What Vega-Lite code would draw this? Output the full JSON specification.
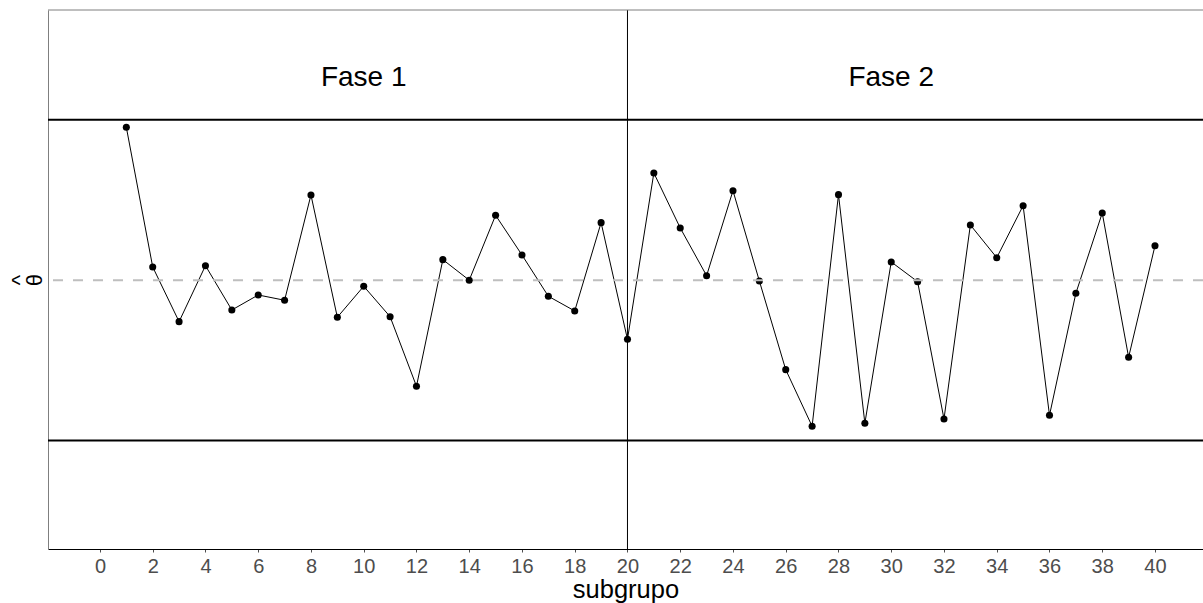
{
  "$schema": "https://vega.github.io/schema/vega-lite/v6.json",
  "autosize": "none",
  "width": 1155,
  "height": 539,
  "padding": {"left": 48, "top": 10, "right": 0, "bottom": 54},
  "background": "white",
  "config": {
    "font": "Liberation Sans",
    "view": {"stroke": null},
    "axis": {"grid": false}
  },
  "datasets": {
    "obs": [
      {"subgrupo": 1, "theta": 2.86},
      {"subgrupo": 2, "theta": 0.247},
      {"subgrupo": 3, "theta": -0.776},
      {"subgrupo": 4, "theta": 0.271},
      {"subgrupo": 5, "theta": -0.558},
      {"subgrupo": 6, "theta": -0.277},
      {"subgrupo": 7, "theta": -0.376},
      {"subgrupo": 8, "theta": 1.594},
      {"subgrupo": 9, "theta": -0.694},
      {"subgrupo": 10, "theta": -0.114},
      {"subgrupo": 11, "theta": -0.683},
      {"subgrupo": 12, "theta": -1.985},
      {"subgrupo": 13, "theta": 0.384},
      {"subgrupo": 14, "theta": 0.0},
      {"subgrupo": 15, "theta": 1.214},
      {"subgrupo": 16, "theta": 0.471},
      {"subgrupo": 17, "theta": -0.301},
      {"subgrupo": 18, "theta": -0.576},
      {"subgrupo": 19, "theta": 1.076},
      {"subgrupo": 20, "theta": -1.106},
      {"subgrupo": 21, "theta": 2.006},
      {"subgrupo": 22, "theta": 0.977},
      {"subgrupo": 23, "theta": 0.084},
      {"subgrupo": 24, "theta": 1.674},
      {"subgrupo": 25, "theta": -0.015},
      {"subgrupo": 26, "theta": -1.674},
      {"subgrupo": 27, "theta": -2.733},
      {"subgrupo": 28, "theta": 1.6},
      {"subgrupo": 29, "theta": -2.677},
      {"subgrupo": 30, "theta": 0.341},
      {"subgrupo": 31, "theta": -0.028},
      {"subgrupo": 32, "theta": -2.597},
      {"subgrupo": 33, "theta": 1.033},
      {"subgrupo": 34, "theta": 0.421},
      {"subgrupo": 35, "theta": 1.394},
      {"subgrupo": 36, "theta": -2.528},
      {"subgrupo": 37, "theta": -0.245},
      {"subgrupo": 38, "theta": 1.257},
      {"subgrupo": 39, "theta": -1.442},
      {"subgrupo": 40, "theta": 0.645}
    ],
    "limites": [
      {"limite": "LSC", "valor": 3},
      {"limite": "LIC", "valor": -3}
    ],
    "centro": [{"limite": "LC", "valor": 0}],
    "corte": [{"subgrupo": 20}],
    "fases": [
      {"subgrupo": 10, "theta": 3.64, "fase": "Fase 1"},
      {"subgrupo": 30, "theta": 3.64, "fase": "Fase 2"}
    ],
    "borde": [{"valor": 5.055}]
  },
  "layer": [
    {
      "data": {"name": "obs"},
      "mark": {"type": "line", "color": "black", "strokeWidth": 1},
      "encoding": {
        "x": {
          "field": "subgrupo", "type": "quantitative",
          "scale": {"domain": [-1.97, 41.82], "nice": false, "zero": false},
          "axis": {
            "values": [0,2,4,6,8,10,12,14,16,18,20,22,24,26,28,30,32,34,36,38,40],
            "title": "subgrupo",
            "domainColor": "black",
            "domainWidth": 1,
            "tickColor": "#4D4D4D",
            "tickSize": 3,
            "labelColor": "#4D4D4D",
            "labelFontSize": 20,
            "labelPadding": 4,
            "titleFontSize": 25.5,
            "titleFontWeight": "normal",
            "titleColor": "black",
            "titleBaseline": "alphabetic",
            "titleY": 48
          }
        },
        "y": {
          "field": "theta", "type": "quantitative",
          "scale": {"domain": [-5.03, 5.055], "nice": false, "zero": false},
          "axis": {
            "title": ["^", "θ"],
            "labels": false,
            "ticks": false,
            "domainColor": "#7f7f7f",
            "domainWidth": 1,
            "titleFontSize": 22,
            "titleFontWeight": "normal",
            "titleColor": "black",
            "titleLineHeight": 15,
            "titleBaseline": "alphabetic",
            "titleAngle": 270,
            "titleX": -22
          }
        }
      }
    },
    {
      "data": {"name": "obs"},
      "mark": {"type": "point", "filled": true, "color": "black", "size": 50, "opacity": 1},
      "encoding": {
        "x": {"field": "subgrupo", "type": "quantitative"},
        "y": {"field": "theta", "type": "quantitative"}
      }
    },
    {
      "data": {"name": "centro"},
      "mark": {"type": "rule", "color": "#BEBEBE", "strokeWidth": 2, "strokeDash": [10, 10]},
      "encoding": {"y": {"field": "valor", "type": "quantitative"}}
    },
    {
      "data": {"name": "limites"},
      "mark": {"type": "rule", "color": "black", "strokeWidth": 2},
      "encoding": {"y": {"field": "valor", "type": "quantitative"}}
    },
    {
      "data": {"name": "corte"},
      "mark": {"type": "rule", "color": "black", "strokeWidth": 1},
      "encoding": {"x": {"field": "subgrupo", "type": "quantitative"}}
    },
    {
      "data": {"name": "borde"},
      "mark": {"type": "rule", "color": "#7f7f7f", "strokeWidth": 1},
      "encoding": {"y": {"field": "valor", "type": "quantitative"}}
    },
    {
      "data": {"name": "fases"},
      "mark": {"type": "text", "fontSize": 28, "color": "black", "align": "center", "baseline": "alphabetic"},
      "encoding": {
        "x": {"field": "subgrupo", "type": "quantitative"},
        "y": {"field": "theta", "type": "quantitative"},
        "text": {"field": "fase"}
      }
    }
  ]
}
